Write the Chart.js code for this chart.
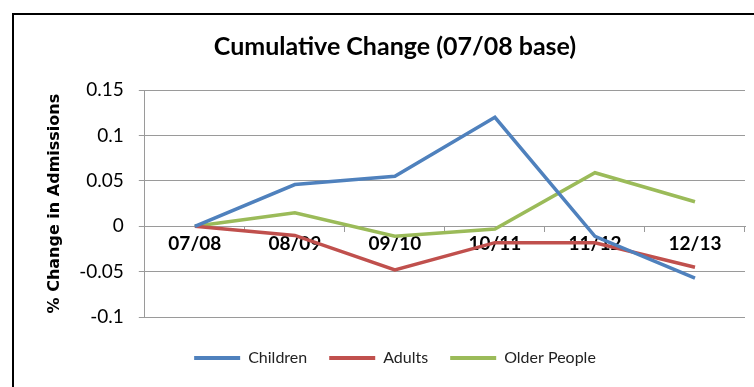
<!DOCTYPE html>
<html>
<head>
<meta charset="utf-8">
<script src="https://cdn.jsdelivr.net/npm/chart.js@4/dist/chart.umd.min.js"></script>
<style>
  html, body { margin: 0; padding: 0; background: #fff; overflow: hidden; }
  #wrap { position: absolute; left: 0; top: 0; width: 812px; height: 400px; }
</style>
</head>
<body>
<div id="wrap"><canvas id="chart-change"></canvas></div>
<script>
const years = ['07/08', '08/09', '09/10', '10/11', '11/12', '12/13'];
const children = [0, 0.046, 0.055, 0.12, -0.011, -0.057];
const adults = [0, -0.01, -0.048, -0.018, -0.018, -0.045];
const olderPeople = [0, 0.015, -0.011, -0.003, 0.059, 0.027];

// outer frame of the chart box
const framePlugin = {
    id: 'frame',
    afterDraw(chart) {
        const ctx = chart.ctx;
        ctx.save();
        ctx.strokeStyle = '#000';
        ctx.lineWidth = 2;
        ctx.strokeRect(13, 14, 786, 380);
        ctx.restore();
    }
};

const line = (label, data, color) => ({
    label: label,
    data: data,
    borderColor: color,
    backgroundColor: color,
    borderWidth: 3.5,
    pointRadius: 0,
    tension: 0
});

const dataChange = {
    labels: years,
    datasets: [
        line('Children', children, '#4F81BD'),
        line('Adults', adults, '#C0504D'),
        line('Older People', olderPeople, '#9BBB59')
    ]
};

const configChange = {
    type: 'line',
    data: dataChange,
    plugins: [framePlugin],
    options: {
        responsive: true,
        maintainAspectRatio: false,
        animation: false,
        layout: {
            padding: { left: 45, right: 67, top: 24, bottom: 24 }
        },
        scales: {
            x: {
                position: { y: 0 },
                offset: true,
                border: { display: true, color: '#9a9a9a' },
                grid: {
                    offset: true,
                    drawOnChartArea: false,
                    drawTicks: true,
                    tickLength: 5,
                    color: '#9a9a9a'
                },
                ticks: {
                    color: '#000',
                    padding: 1,
                    font: { family: 'Lato', size: 19, weight: 'bold' }
                }
            },
            y: {
                min: -0.1,
                max: 0.15,
                border: { display: true, color: '#9a9a9a' },
                grid: { color: '#9a9a9a', tickLength: 6 },
                ticks: {
                    stepSize: 0.05,
                    color: '#000',
                    padding: 15,
                    font: { family: 'Lato', size: 19 },
                    callback: v => String(parseFloat(v.toFixed(2)))
                },
                title: {
                    display: true,
                    text: '% Change in Admissions',
                    color: '#000',
                    padding: { top: 0, bottom: 0 },
                    font: { family: 'DejaVu Sans', size: 16, weight: 'bold' }
                }
            }
        },
        plugins: {
            title: {
                display: true,
                text: 'Cumulative Change (07/08 base)',
                color: '#000',
                padding: { top: 8, bottom: 28 },
                font: { family: 'Lato', size: 25, weight: 'bold' }
            },
            legend: {
                position: 'bottom',
                title: { display: true, text: '', padding: 0, font: { size: 9 } },
                labels: {
                    boxWidth: 46,
                    boxHeight: 4,
                    padding: 22,
                    color: '#222',
                    font: { family: 'Lato', size: 16 },
                    generateLabels(chart) {
                        const items = Chart.defaults.plugins.legend.labels.generateLabels(chart);
                        items.forEach(i => { i.lineWidth = 0; });
                        return items;
                    }
                }
            },
            tooltip: { enabled: false }
        }
    }
};

const myChartChange = new Chart(
    document.getElementById('chart-change'),
    configChange
);
</script>
</body>
</html>
